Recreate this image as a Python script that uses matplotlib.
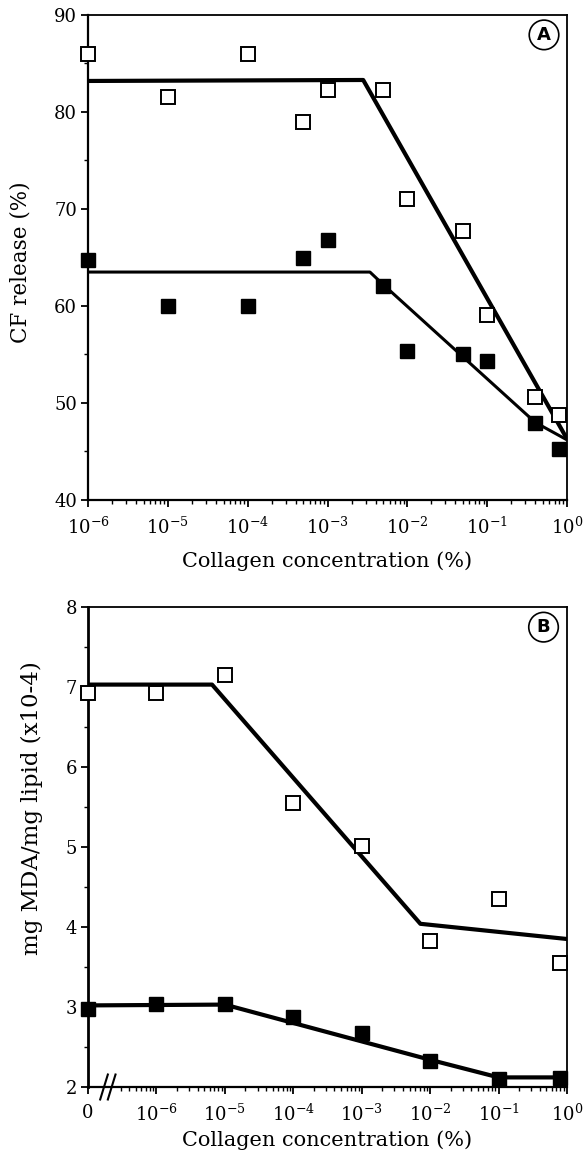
import matplotlib
matplotlib.use("Agg")
import matplotlib.pyplot as plt
from matplotlib.ticker import FixedLocator, FixedFormatter, MultipleLocator, NullFormatter, LogLocator
import numpy as np

plt.rcParams['font.family'] = ['DejaVu Serif']
plt.rcParams['mathtext.fontset'] = 'custom'
plt.rcParams['mathtext.rm'] = 'DejaVu Serif'

# ---- Panel A data ----
xA = [1e-6, 1e-5, 1e-4, 5e-4, 1e-3, 5e-3, 1e-2, 5e-2, 1e-1, 0.4, 0.8]
openA = [86.0, 81.5, 86.0, 79.0, 82.3, 82.3, 71.0, 67.7, 59.1, 50.6, 48.8]
filledA = [64.7, 60.0, 60.0, 64.9, 66.8, 62.1, 55.4, 55.1, 54.3, 47.9, 45.3]
fitA_open_x = [1e-6, 2.8e-3, 1.0]
fitA_open_y = [83.2, 83.3, 46.3]
fitA_filled_x = [1e-6, 3.4e-3, 5e-3, 0.4, 1.0]
fitA_filled_y = [63.5, 63.5, 62.2, 48.0, 46.2]
xA_ticks = [1e-6, 1e-5, 1e-4, 1e-3, 1e-2, 1e-1, 1e0]
xA_ticklabels = [r'$\mathregular{10^{-6}}$', r'$\mathregular{10^{-5}}$', r'$\mathregular{10^{-4}}$',
                 r'$\mathregular{10^{-3}}$', r'$\mathregular{10^{-2}}$', r'$\mathregular{10^{-1}}$',
                 r'$\mathregular{10^{0}}$']
yA_ticks = [40, 50, 60, 70, 80, 90]

# ---- Panel B data ----
xB = [0, 1e-6, 1e-5, 1e-4, 1e-3, 1e-2, 1e-1, 0.8]
openB = [6.93, 6.93, 7.15, 5.55, 5.01, 3.82, 4.35, 3.55]
filledB = [2.97, 3.04, 3.04, 2.88, 2.68, 2.33, 2.10, 2.11]
fitB_open_x = [0, 6.5e-6, 7.2e-3, 1.0]
fitB_open_y = [7.03, 7.03, 4.04, 3.85]
fitB_filled_x = [0, 1e-5, 1e-2, 0.1, 1.0]
fitB_filled_y = [3.02, 3.03, 2.34, 2.12, 2.12]
xB_ticks = [0, 1e-6, 1e-5, 1e-4, 1e-3, 1e-2, 1e-1, 1e0]
xB_ticklabels = ['0'] + xA_ticklabels
yB_ticks = [2, 3, 4, 5, 6, 7, 8]

ZERO_POS = 1e-7  # position used for the "0" on the broken log axis


def zpos(v):
    return [ZERO_POS if x == 0 else x for x in v]


fig = plt.figure(figsize=(5.86, 11.54), dpi=100)
L, R = 88 / 586, 567 / 586
axA = fig.add_axes([L, 1 - 500 / 1154, R - L, (500 - 15) / 1154])
axB = fig.add_axes([L, 1 - 1087 / 1154, R - L, (1087 - 607) / 1154])

TICKFS = 13
LABFS = 15

def style(ax):
    for s in ax.spines.values():
        s.set_linewidth(1.3)
    ax.spines['left'].set_linewidth(1.6)
    ax.spines['bottom'].set_linewidth(1.6)
    ax.tick_params(axis='both', which='major', direction='out', length=5, width=1.3,
                   labelsize=TICKFS, top=False, right=False)
    ax.tick_params(axis='both', which='minor', direction='out', length=3, width=1.0,
                   top=False, right=False)
    ax.tick_params(axis='x', which='major', pad=7)
    ax.tick_params(axis='y', which='major', pad=3)


# ---- Panel A ----
ax = axA
ax.set_xscale('log')
ax.set_xlim(1e-6, 1e0)
ax.set_ylim(40, 90)
ax.plot(fitA_open_x, fitA_open_y, color='black', lw=3.0, solid_capstyle='butt', zorder=2)
ax.plot(fitA_filled_x, fitA_filled_y, color='black', lw=2.2, solid_capstyle='butt', zorder=2)
ax.plot(xA, openA, linestyle='none', marker='s', markersize=9.5, markerfacecolor='white',
        markeredgecolor='black', markeredgewidth=1.4, clip_on=False, zorder=3)
ax.plot(xA, filledA, linestyle='none', marker='s', markersize=9.5, markerfacecolor='black',
        markeredgecolor='black', clip_on=False, zorder=3)
ax.xaxis.set_major_locator(FixedLocator(xA_ticks))
ax.xaxis.set_major_formatter(FixedFormatter(xA_ticklabels))
ax.xaxis.set_minor_locator(LogLocator(base=10, subs=np.arange(2, 10)))
ax.xaxis.set_minor_formatter(NullFormatter())
ax.yaxis.set_major_locator(FixedLocator(yA_ticks))
ax.yaxis.set_minor_locator(MultipleLocator(5))
style(ax)
ax.set_xlabel('Collagen concentration (%)', fontsize=LABFS, labelpad=10)
ax.set_ylabel('CF release (%)', fontsize=15.5)
ax.yaxis.set_label_coords(-0.117, 0.49)
ax.text(0.952, 0.959, 'A', transform=ax.transAxes, ha='center', va='center',
        fontsize=13, family='DejaVu Sans', fontweight='bold',
        bbox=dict(boxstyle='circle,pad=0.32', facecolor='white', edgecolor='black', linewidth=1.2))

# ---- Panel B ----
ax = axB
ax.set_xscale('log')
ax.set_xlim(ZERO_POS, 1e0)
ax.set_ylim(2, 8)
ax.plot(zpos(fitB_open_x), fitB_open_y, color='black', lw=3.0, solid_capstyle='butt', zorder=2)
ax.plot(zpos(fitB_filled_x), fitB_filled_y, color='black', lw=3.0, solid_capstyle='butt', zorder=2)
ax.plot(zpos(xB), openB, linestyle='none', marker='s', markersize=9.5, markerfacecolor='white',
        markeredgecolor='black', markeredgewidth=1.4, clip_on=False, zorder=3)
ax.plot(zpos(xB), filledB, linestyle='none', marker='s', markersize=10, markerfacecolor='black',
        markeredgecolor='black', clip_on=False, zorder=3)
ax.xaxis.set_major_locator(FixedLocator(zpos(xB_ticks)))
ax.xaxis.set_major_formatter(FixedFormatter(xB_ticklabels))
minors = [m * 10.0 ** e for e in range(-7, 0) for m in range(2, 10)]
minors = [m for m in minors if m > 2.5e-7]
ax.xaxis.set_minor_locator(FixedLocator(minors))
ax.xaxis.set_minor_formatter(NullFormatter())
ax.yaxis.set_major_locator(FixedLocator(yB_ticks))
ax.yaxis.set_minor_locator(MultipleLocator(0.5))
style(ax)
ax.spines['left'].set_linewidth(2.0)
ax.set_xlabel('Collagen concentration (%)', fontsize=LABFS, labelpad=4)
ax.set_ylabel('mg MDA/mg lipid (x10-4)', fontsize=16.5)
ax.yaxis.set_label_coords(-0.094, 0.58)
ax.text(0.951, 0.958, 'B', transform=ax.transAxes, ha='center', va='center',
        fontsize=13, family='DejaVu Sans', fontweight='bold',
        bbox=dict(boxstyle='circle,pad=0.32', facecolor='white', edgecolor='black', linewidth=1.2))
# axis break marks "//"
cx = 0.29 / 7
for dx in (-0.008, 0.008):
    ax.plot([cx + dx - 0.008, cx + dx + 0.008], [-0.026, 0.026], transform=ax.transAxes,
            color='black', lw=1.5, clip_on=False, zorder=4)

fig.savefig('out.png', dpi=100)
